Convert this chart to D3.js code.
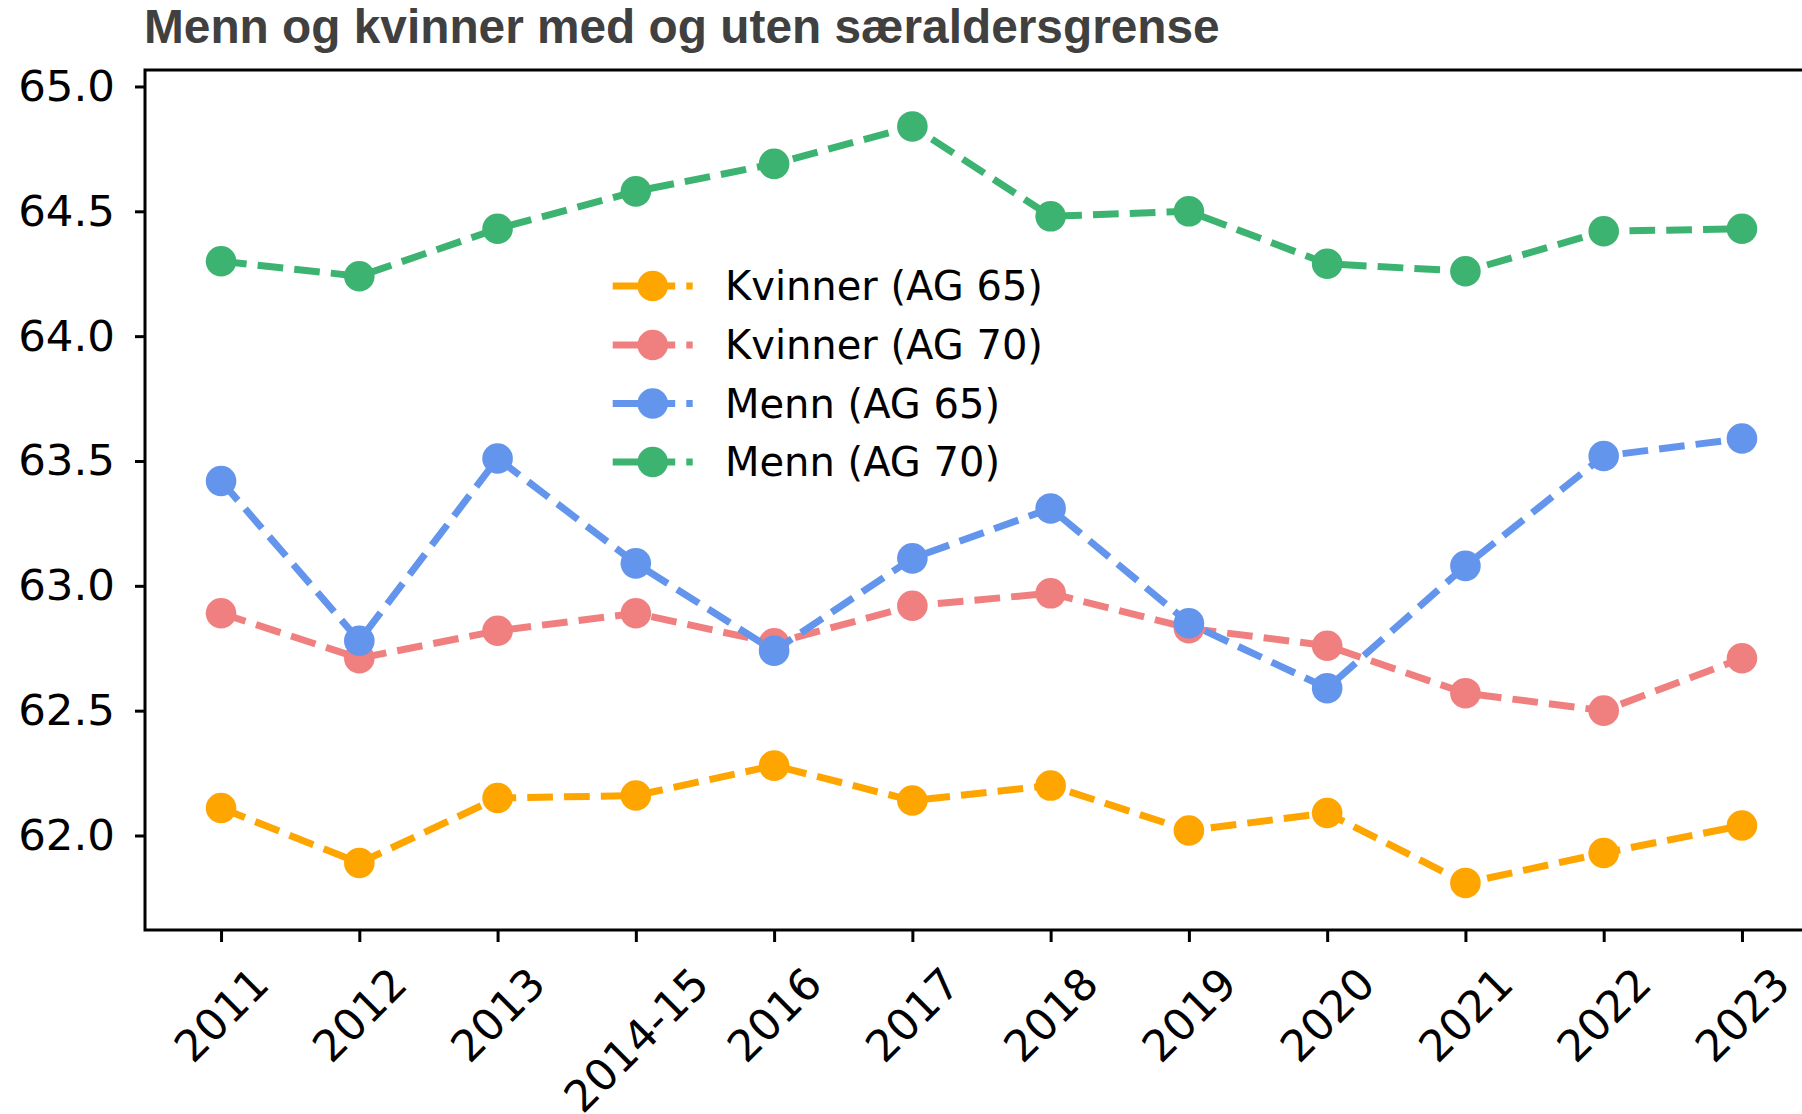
<!DOCTYPE html>
<html>
<head>
<meta charset="utf-8">
<script src="https://cdn.jsdelivr.net/npm/d3@7"></script>
<style>
    body { margin: 0; background: white; }
    svg { display: block; }
</style>
</head>
<body>
<div id="chart"></div>
<script>
// Data
const categories = ['2011', '2012', '2013', '2014-15', '2016', '2017', '2018', '2019', '2020', '2021', '2022', '2023'];
const kvinnerAg65 = [62.11, 61.89, 62.15, 62.16, 62.28, 62.14, 62.20, 62.02, 62.09, 61.81, 61.93, 62.04];
const kvinnerAg70 = [62.89, 62.71, 62.82, 62.89, 62.77, 62.92, 62.97, 62.83, 62.76, 62.57, 62.50, 62.71];
const mennAg65 = [63.42, 62.78, 63.51, 63.09, 62.74, 63.11, 63.31, 62.85, 62.59, 63.08, 63.52, 63.59];
const mennAg70 = [64.30, 64.24, 64.43, 64.58, 64.69, 64.84, 64.48, 64.50, 64.29, 64.26, 64.42, 64.43];
const seriesNames = ['Kvinner (AG 65)', 'Kvinner (AG 70)', 'Menn (AG 65)', 'Menn (AG 70)'];
const yTicks = [62.0, 62.5, 63.0, 63.5, 64.0, 64.5, 65.0];
const title = 'Menn og kvinner med og uten særaldersgrense';

const colors = ['#FFA500', '#F08080', '#6495ED', '#3CB371'];
const series = [kvinnerAg65, kvinnerAg70, mennAg65, mennAg70].map((values, i) => ({
    name: seriesNames[i],
    color: colors[i],
    values: values
}));

const size = {width: 1802, height: 1114};
const plot = {left: 145, top: 70, right: 1818, bottom: 930};
const tickFont = 'DejaVu Sans, sans-serif';
const tickFontSize = 43.5;
const legendFontSize = 40;
const lineWidth = 7;
const dash = '25.7,11.1';
const markerR = 15.3;

const svg = d3.select('#chart')
    .append('svg')
    .attr('width', size.width)
    .attr('height', size.height);

// scales
const xScale = d3.scalePoint()
    .domain(categories)
    .range([plot.left, plot.right])
    .padding(0.55);
const yScale = d3.scaleLinear()
    .domain([61.6215, 65.066])
    .range([plot.bottom, plot.top]);

// title
svg.append('text')
    .attr('x', 144)
    .attr('y', 43)
    .style('font-family', 'Liberation Sans, Arial, sans-serif')
    .style('font-weight', 'bold')
    .style('font-size', '47.8px')
    .style('fill', '#404040')
    .text(title);

// lines + markers
const line = d3.line()
    .x((d, i) => xScale(categories[i]))
    .y(d => yScale(d));

series.forEach(s => {
    const g = svg.append('g').attr('class', 'series');
    g.append('path')
        .datum(s.values)
        .attr('d', line)
        .style('fill', 'none')
        .style('stroke', s.color)
        .style('stroke-width', lineWidth)
        .style('stroke-dasharray', dash);
    g.selectAll('circle')
        .data(s.values)
        .enter()
        .append('circle')
        .attr('cx', (d, i) => xScale(categories[i]))
        .attr('cy', d => yScale(d))
        .attr('r', markerR)
        .style('fill', s.color);
});

// spines (right one sits outside the picture)
svg.append('rect')
    .attr('x', plot.left)
    .attr('y', plot.top)
    .attr('width', plot.right - plot.left)
    .attr('height', plot.bottom - plot.top)
    .style('fill', 'none')
    .style('stroke', 'black')
    .style('stroke-width', 3);

// y axis
const yAxis = d3.axisLeft(yScale)
    .tickValues(yTicks)
    .tickFormat(d3.format('.1f'))
    .tickSize(10)
    .tickPadding(20);
const yAxisG = svg.append('g')
    .attr('transform', 'translate(' + plot.left + ',0)')
    .call(yAxis);
yAxisG.select('.domain').remove();
yAxisG.selectAll('.tick line').style('stroke', 'black').style('stroke-width', 3);
yAxisG.selectAll('.tick text')
    .style('font-family', tickFont)
    .style('font-size', tickFontSize + 'px')
    .style('fill', 'black');

// x axis, labels rotated 45 and centered under ticks
const xAxis = d3.axisBottom(xScale).tickSize(12);
const xAxisG = svg.append('g')
    .attr('transform', 'translate(0,' + plot.bottom + ')')
    .call(xAxis);
xAxisG.select('.domain').remove();
xAxisG.selectAll('.tick line').style('stroke', 'black').style('stroke-width', 3);
const labelTop = 958 - plot.bottom;
xAxisG.selectAll('.tick text')
    .style('font-family', tickFont)
    .style('font-size', tickFontSize + 'px')
    .style('fill', 'black')
    .attr('text-anchor', 'middle')
    .attr('dy', null)
    .attr('dominant-baseline', 'central')
    .each(function () {
        const w = this.getComputedTextLength();
        const h = tickFontSize * 1.164;
        const half = (w + h) / (2 * Math.SQRT2);
        d3.select(this)
            .attr('x', 0)
            .attr('y', 0)
            .attr('transform', 'translate(0,' + (labelTop + half) + ') rotate(-45)');
    });

// legend
const legend = svg.append('g').attr('class', 'legend');
const legendRowY = [286, 345, 403.5, 462];
series.forEach((s, i) => {
    const row = legend.append('g').attr('transform', 'translate(0,' + legendRowY[i] + ')');
    row.append('line')
        .attr('x1', 612.7)
        .attr('x2', 692.7)
        .attr('y1', 0)
        .attr('y2', 0)
        .style('stroke', s.color)
        .style('stroke-width', lineWidth)
        .style('stroke-dasharray', dash);
    row.append('circle')
        .attr('cx', 652.7)
        .attr('cy', 0)
        .attr('r', markerR)
        .style('fill', s.color);
    row.append('text')
        .attr('x', 725)
        .attr('y', 0)
        .attr('dominant-baseline', 'central')
        .style('font-family', tickFont)
        .style('font-size', legendFontSize + 'px')
        .style('fill', 'black')
        .text(s.name);
});
</script>
</body>
</html>
